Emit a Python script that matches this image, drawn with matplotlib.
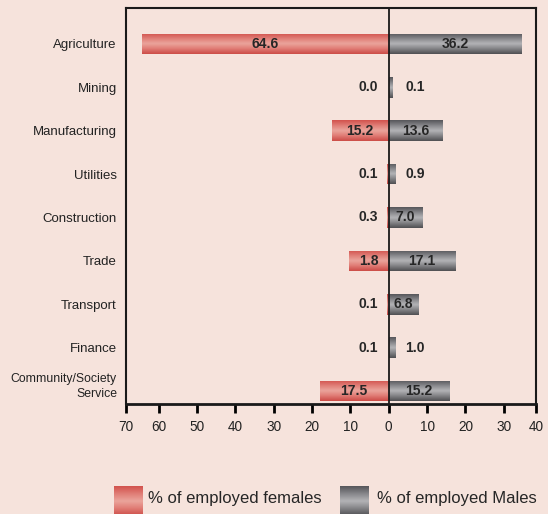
import numpy as np
import matplotlib.pyplot as plt
import matplotlib.transforms as mtransforms
from matplotlib.colors import LinearSegmentedColormap

plt.rcParams['font.family'] = ['Liberation Sans', 'DejaVu Sans']

categories = ['Agriculture', 'Mining', 'Manufacturing', 'Utilities', 'Construction',
              'Trade', 'Transport', 'Finance', 'Community/Society\nService']
# bar lengths as drawn in the picture
female_bar = [64.2, 0.0, 14.9, 0.5, 0.5, 10.4, 0.5, 0.0, 18.0]
male_bar = [34.6, 0.8, 14.0, 1.8, 8.8, 17.4, 7.7, 1.6, 15.8]
# printed values
female_pct = [64.6, 0.0, 15.2, 0.1, 0.3, 1.8, 0.1, 0.1, 17.5]
male_pct = [36.2, 0.1, 13.6, 0.9, 7.0, 17.1, 6.8, 1.0, 15.2]

tick_pos = [-68.5, -60, -50, -40, -30, -20, -10, 0, 10, 20, 30, 38.4]
tick_lab = ['70', '60', '50', '40', '30', '20', '10', '0', '10', '20', '30', '40']

bg = '#f6e3dc'
red_cmap = LinearSegmentedColormap.from_list('r', ['#d2524d', '#e07d76', '#eba59c', '#e07b74', '#cc4c47'])
gray_cmap = LinearSegmentedColormap.from_list('g', ['#56565a', '#86868a', '#b4b4b7', '#838386', '#4f4f52'])
grad = np.linspace(0, 1, 64).reshape(-1, 1)

fig = plt.figure(figsize=(5.48, 5.14), dpi=100, facecolor=bg)
ax = fig.add_axes([0.2299, 0.214, 0.7481, 0.7705], facecolor=bg)

y = np.arange(len(categories))
fbars = ax.barh(y, -np.array(female_bar), height=0.475, color='#d9605a', zorder=2)
mbars = ax.barh(y, male_bar, height=0.475, color='#6a6a6d', zorder=2)


def shade(bars, cmap):
    for b in bars:
        x0, y0 = b.get_x(), b.get_y()
        w, h = b.get_width(), b.get_height()
        if abs(w) < 1e-9:
            continue
        im = ax.imshow(grad, cmap=cmap, extent=[x0, x0 + w, y0 + h, y0],
                       aspect='auto', zorder=2.1, interpolation='bicubic')
        im.set_clip_path(b)


shade(fbars, red_cmap)
shade(mbars, gray_cmap)

ax.axvline(0, color='#1a1a1a', lw=1.3, zorder=3)

txt = dict(fontsize=10, fontweight='bold', color='#262626', va='center', zorder=4)
for i in y:
    if female_bar[i] > 5:
        ax.text(-female_bar[i] / 2, i, f'{female_pct[i]:.1f}', ha='center', **txt)
    else:
        ax.annotate(f'{female_pct[i]:.1f}', (0, i), xytext=(-8, 0),
                    textcoords='offset points', ha='right', **txt)
    if male_bar[i] > 5:
        ax.text(male_bar[i] / 2, i, f'{male_pct[i]:.1f}', ha='center', **txt)
    else:
        ax.annotate(f'{male_pct[i]:.1f}', (0, i), xytext=(12, 0),
                    textcoords='offset points', ha='left', **txt)

ax.set_xlim(tick_pos[0], tick_pos[-1])
ax.set_ylim(8.3, -0.83)
ax.set_xticks(tick_pos)
ax.set_xticklabels(tick_lab)
ax.set_yticks(y)
ax.set_yticklabels(categories, linespacing=1.25)
ax.tick_params(axis='x', direction='out', length=6.5, width=2, pad=5, labelsize=9.8, labelcolor='#222222')
ax.tick_params(axis='y', length=0, pad=6.5, labelsize=9.5, labelcolor='#222222')

# two-line label sits a little higher and smaller in the original
last = ax.get_yticklabels()[-1]
last.set_fontsize(8.8)
last.set_transform(last.get_transform() + mtransforms.ScaledTranslation(0, 7 / 100, fig.dpi_scale_trans))

for s in ax.spines.values():
    s.set_color('#1a1a1a')
    s.set_linewidth(1.5)
ax.spines['bottom'].set_linewidth(2)

# legend
lax = fig.add_axes([0, 0, 1, 1], facecolor='none')
lax.set_xlim(0, 548)
lax.set_ylim(514, 0)
lax.axis('off')
lax.imshow(grad, cmap=red_cmap, extent=[114, 143, 516, 486], aspect='auto', interpolation='bicubic')
lax.imshow(grad, cmap=gray_cmap, extent=[340, 369, 516, 486], aspect='auto', interpolation='bicubic')
lax.set_xlim(0, 548)
lax.set_ylim(514, 0)
lax.text(148, 498, '% of employed females', fontsize=12, color='#262626', va='center', ha='left')
lax.text(377, 499, '% of employed Males', fontsize=12, color='#262626', va='center', ha='left')

fig.savefig('out.png', dpi=100, facecolor=bg)
